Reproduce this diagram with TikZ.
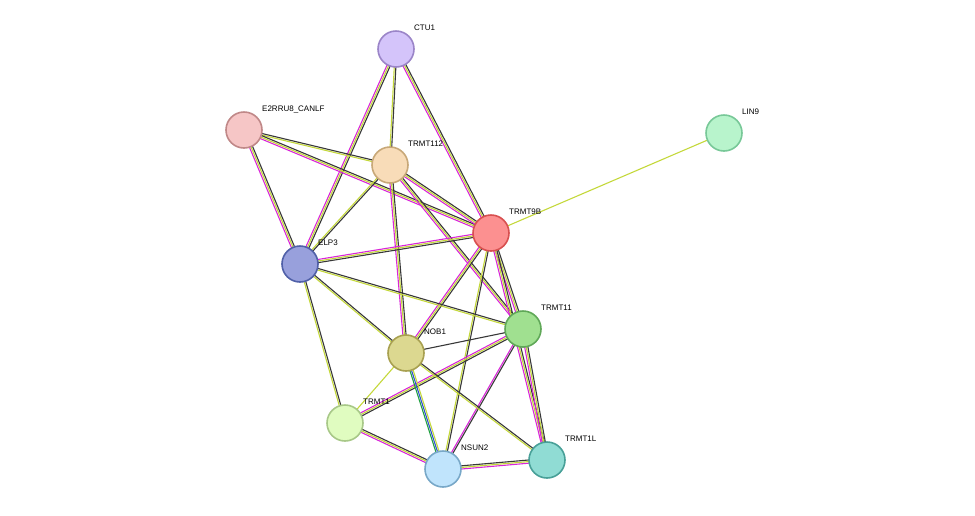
\documentclass[tikz,border=0pt]{standalone}
\usepackage{fontspec}
\setmainfont{Liberation Sans}
\usetikzlibrary{calc}

\definecolor{ylw}{HTML}{C4D83A}
\definecolor{mag}{HTML}{D826D8}
\definecolor{blk}{HTML}{383838}
\definecolor{grn}{HTML}{20A040}
\definecolor{blu}{HTML}{3050D0}
\definecolor{ctuF}{HTML}{D4C4FA}\definecolor{ctuD}{HTML}{9B85C8}
\definecolor{e2rF}{HTML}{F6C6C6}\definecolor{e2rD}{HTML}{C08888}
\definecolor{t112F}{HTML}{F8DCB8}\definecolor{t112D}{HTML}{C8A878}
\definecolor{lin9F}{HTML}{B8F4CC}\definecolor{lin9D}{HTML}{78C898}
\definecolor{t9bF}{HTML}{FC9090}\definecolor{t9bD}{HTML}{D85050}
\definecolor{elp3F}{HTML}{98A0DC}\definecolor{elp3D}{HTML}{5060A8}
\definecolor{t11F}{HTML}{A0E090}\definecolor{t11D}{HTML}{60A858}
\definecolor{nob1F}{HTML}{DCD890}\definecolor{nob1D}{HTML}{A8A050}
\definecolor{t1F}{HTML}{E0FCC0}\definecolor{t1D}{HTML}{A8C888}
\definecolor{nsun2F}{HTML}{C0E4FC}\definecolor{nsun2D}{HTML}{78A8C8}
\definecolor{t1lF}{HTML}{90DCD4}\definecolor{t1lD}{HTML}{48A098}

% edge a--b drawn as parallel coloured strands
\newcommand{\strand}[4]{%
  \draw[#4, line width=1.1pt] ($(#1)!#3!90:(#2)$) -- ($(#2)!#3!-90:(#1)$);}
\newcommand{\linkA}[2]{\strand{#1}{#2}{-1.6pt}{mag}\strand{#1}{#2}{0pt}{ylw}\strand{#1}{#2}{1.6pt}{blk}}
\newcommand{\linkB}[2]{\strand{#1}{#2}{-0.8pt}{ylw}\strand{#1}{#2}{0.8pt}{blk}}
\newcommand{\linkC}[2]{\strand{#1}{#2}{0pt}{ylw}}
\newcommand{\linkD}[2]{\strand{#1}{#2}{0pt}{blk}}
\newcommand{\linkE}[2]{\strand{#1}{#2}{-0.8pt}{mag}\strand{#1}{#2}{0.8pt}{blk}}
\newcommand{\linkF}[2]{\strand{#1}{#2}{-1.6pt}{grn}\strand{#1}{#2}{0pt}{blu}\strand{#1}{#2}{1.6pt}{ylw}}

\begin{document}
\begin{tikzpicture}[x=1pt, y=-1pt,
prot/.style={circle, minimum size=36pt, inner sep=0pt, line width=1.6pt, fill=#1F, draw=#1D},
lab/.style={font=\fontsize{8}{9}\selectfont, inner sep=1pt}
]
\path[use as bounding box] (0,0) rectangle (975,515);

% anchors for the edges
\coordinate (ctu) at (396,49);
\coordinate (e2r) at (244,130);
\coordinate (t112) at (390,165);
\coordinate (lin9) at (724,133);
\coordinate (t9b) at (491,233);
\coordinate (elp3) at (300,264);
\coordinate (t11) at (523,329);
\coordinate (nob1) at (406,353);
\coordinate (t1) at (345,423);
\coordinate (nsun2) at (443,469);
\coordinate (t1l) at (547,460);

% edges
\linkB{ctu}{t112}
\linkA{ctu}{t9b}
\linkA{ctu}{elp3}
\linkB{e2r}{t112}
\linkA{e2r}{t9b}
\linkA{e2r}{elp3}
\linkA{t112}{t9b}
\linkB{t112}{elp3}
\linkA{t112}{t11}
\linkA{t112}{nob1}
\linkC{lin9}{t9b}
\linkA{t9b}{elp3}
\linkA{t9b}{t11}
\linkA{t9b}{nob1}
\linkA{t9b}{t1l}
\linkB{t9b}{nsun2}
\linkB{elp3}{t11}
\linkB{elp3}{nob1}
\linkB{elp3}{t1}
\linkD{t11}{nob1}
\linkA{t11}{t1}
\linkE{t11}{nsun2}
\linkA{t11}{t1l}
\linkC{nob1}{t1}
\linkF{nob1}{nsun2}
\linkB{nob1}{t1l}
\linkA{t1}{nsun2}
\linkA{nsun2}{t1l}

% proteins
\node[prot=ctu] (CTU1) at (ctu) {};
\node[prot=e2r] (E2RRU8) at (e2r) {};
\node[prot=t112] (TRMT112) at (t112) {};
\node[prot=lin9] (LIN9) at (lin9) {};
\node[prot=t9b] (TRMT9B) at (t9b) {};
\node[prot=elp3] (ELP3) at (elp3) {};
\node[prot=t11] (TRMT11) at (t11) {};
\node[prot=nob1] (NOB1) at (nob1) {};
\node[prot=t1] (TRMT1) at (t1) {};
\node[prot=nsun2] (NSUN2) at (nsun2) {};
\node[prot=t1l] (TRMT1L) at (t1l) {};

% labels
\node[lab, anchor=west] (lCTU1) at ($(CTU1)+(17,-21)$) {CTU1};
\node[lab, anchor=west] (lE2RRU8) at ($(E2RRU8)+(17,-21)$) {E2RRU8\_CANLF};
\node[lab, anchor=west] (lTRMT112) at ($(TRMT112)+(17,-21)$) {TRMT112};
\node[lab, anchor=west] (lLIN9) at ($(LIN9)+(17,-21)$) {LIN9};
\node[lab, anchor=west] (lTRMT9B) at ($(TRMT9B)+(17,-21)$) {TRMT9B};
\node[lab, anchor=west] (lELP3) at ($(ELP3)+(17,-21)$) {ELP3};
\node[lab, anchor=west] (lTRMT11) at ($(TRMT11)+(17,-21)$) {TRMT11};
\node[lab, anchor=west] (lNOB1) at ($(NOB1)+(17,-21)$) {NOB1};
\node[lab, anchor=west] (lTRMT1) at ($(TRMT1)+(17,-21)$) {TRMT1};
\node[lab, anchor=west] (lNSUN2) at ($(NSUN2)+(17,-21)$) {NSUN2};
\node[lab, anchor=west] (lTRMT1L) at ($(TRMT1L)+(17,-21)$) {TRMT1L};
\end{tikzpicture}
\end{document}
